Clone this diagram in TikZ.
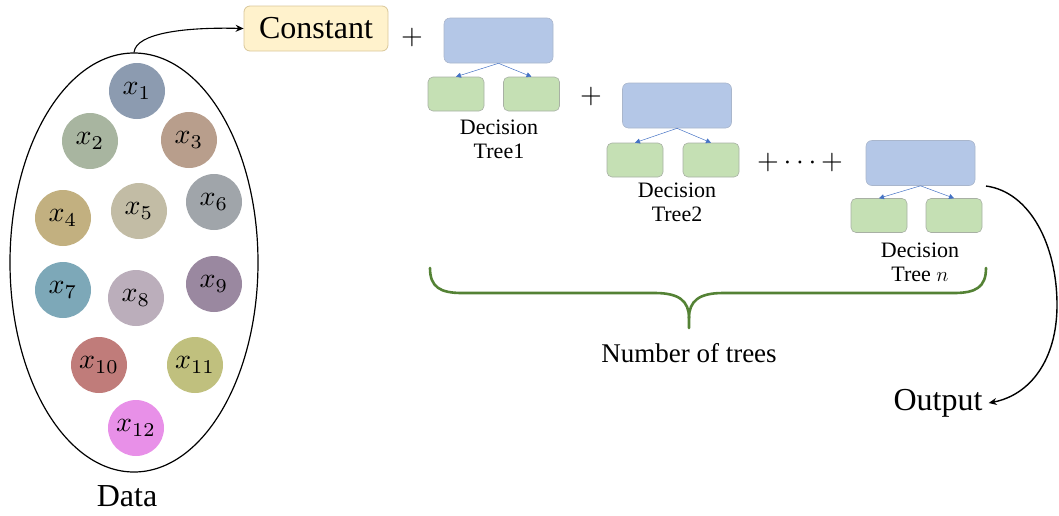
\documentclass[tikz,border=0pt]{standalone}
\usepackage{graphicx}
\usepackage{fontspec}
\setmainfont{Liberation Serif}
\usetikzlibrary{arrows.meta,shapes.geometric}

\definecolor{rootfill}{HTML}{B4C7E7}
\definecolor{rootedge}{HTML}{A9B6CC}
\definecolor{leaffill}{HTML}{C5E0B4}
\definecolor{leafedge}{HTML}{A8B0A4}
\definecolor{constfill}{HTML}{FFF2CC}
\definecolor{constedge}{HTML}{D9C79A}
\definecolor{braceg}{HTML}{548235}
\definecolor{treearrowc}{HTML}{4472C4}
\definecolor{cA}{HTML}{8C9BB0}
\definecolor{cB}{HTML}{A8B5A0}
\definecolor{cC}{HTML}{B89E8C}
\definecolor{cD}{HTML}{C2B080}
\definecolor{cE}{HTML}{C2BCA5}
\definecolor{cF}{HTML}{A0A5AA}
\definecolor{cG}{HTML}{7DA8B8}
\definecolor{cH}{HTML}{BBAEBB}
\definecolor{cI}{HTML}{9A88A0}
\definecolor{cJ}{HTML}{C07C7A}
\definecolor{cK}{HTML}{C0C07E}
\definecolor{cL}{HTML}{E890E8}

% large maths, scaled up from the normal size
\newcommand{\bigmath}[1]{\scalebox{2.8}{$#1$}}

\tikzset{
  feat/.style={circle, minimum size=56pt, inner sep=0pt, fill=#1},
  rootbox/.style={rectangle, rounded corners=6pt, fill=rootfill, draw=rootedge,
    line width=0.6pt, minimum width=109pt, minimum height=45pt, inner sep=0pt},
  leafbox/.style={rectangle, rounded corners=5pt, fill=leaffill, draw=leafedge,
    line width=0.6pt, minimum width=56pt, minimum height=34pt, inner sep=0pt},
  treearrow/.style={draw=treearrowc, line width=0.5pt,
    -{Triangle[width=5pt,length=5pt]}},
  treelabel/.style={align=center, font=\fontsize{22}{24}\selectfont, inner sep=0pt},
  bigtext/.style={font=\fontsize{32}{36}\selectfont, inner sep=0pt},
  plus/.style={inner sep=0pt},
  flow/.style={line width=1.4pt, -{Stealth[length=8pt,width=7pt]}},
}

\begin{document}
\begin{tikzpicture}[x=1pt,y=-1pt]
\useasboundingbox (0,0) rectangle (1059,515);

% data set
\node[draw, line width=1.2pt, ellipse, minimum width=248pt, minimum height=419pt,
      inner sep=0pt] (data) at (134,262.5) {};
\node[bigtext] (datalabel) at (127,496) {Data};

\node[feat=cA] (f1)  at (137,91)  {\bigmath{x_{1}}};
\node[feat=cB] (f2)  at (90,141)  {\bigmath{x_{2}}};
\node[feat=cC] (f3)  at (189,140) {\bigmath{x_{3}}};
\node[feat=cD] (f4)  at (63,218)  {\bigmath{x_{4}}};
\node[feat=cE] (f5)  at (139,211) {\bigmath{x_{5}}};
\node[feat=cF] (f6)  at (214,202) {\bigmath{x_{6}}};
\node[feat=cG] (f7)  at (63,290)  {\bigmath{x_{7}}};
\node[feat=cH] (f8)  at (136,298) {\bigmath{x_{8}}};
\node[feat=cI] (f9)  at (214,284) {\bigmath{x_{9}}};
\node[feat=cJ] (f10) at (99,365)  {\bigmath{x_{10}}};
\node[feat=cK] (f11) at (195,365) {\bigmath{x_{11}}};
\node[feat=cL] (f12) at (136,428) {\bigmath{x_{12}}};

% constant term
\node[rectangle, rounded corners=6pt, fill=constfill, draw=constedge, line width=0.8pt,
      minimum width=144pt, minimum height=45pt, inner sep=0pt, bigtext]
      (const) at (316,28.5) {Constant};
\draw[flow, line width=1.1pt] (data.north) .. controls (136,33) and (185,27) .. (const.west);

\node[plus] (p0) at (412,37) {\bigmath{+}};

% tree 1
\node[rootbox] (r1) at (498.5,40.5) {};
\node[leafbox] (a1) at (456,94) {};
\node[leafbox] (b1) at (531.5,94) {};
\draw[treearrow] (r1.south) -- (a1.north);
\draw[treearrow] (r1.south) -- (b1.north);
\node[treelabel] (t1) at (499,139) {Decision\\Tree1};

\node[plus] (p1) at (591,96) {\bigmath{+}};

% tree 2
\node[rootbox] (r2) at (677,105.5) {};
\node[leafbox] (a2) at (635,160) {};
\node[leafbox] (b2) at (711,160) {};
\draw[treearrow] (r2.south) -- (a2.north);
\draw[treearrow] (r2.south) -- (b2.north);
\node[treelabel] (t2) at (677,202) {Decision\\Tree2};

\node[plus] (pdots) at (800,162) {\bigmath{+\cdots+}};

% tree n
\node[rootbox] (rn) at (920.5,163) {};
\node[leafbox] (an) at (879,215.5) {};
\node[leafbox] (bn) at (954,215.5) {};
\draw[treearrow] (rn.south) -- (an.north);
\draw[treearrow] (rn.south) -- (bn.north);
\node[treelabel] (tn) at (920,262) {Decision\\Tree $n$};

% brace over all trees
\draw[braceg, line width=2.6pt, line cap=round]
  (430,268) .. controls (430,287) and (440,293) .. (462,293)
  -- (655,293) .. controls (679,293) and (689,301) .. (689,318) -- (689,328);
\draw[braceg, line width=2.6pt, line cap=round]
  (986,268) .. controls (986,287) and (976,293) .. (954,293)
  -- (723,293) .. controls (699,293) and (689,301) .. (689,318);
\node[font=\fontsize{27}{30}\selectfont, inner sep=0pt] (ntrees) at (689,353) {Number of trees};

% result
\node[bigtext] (out) at (938,403) {Output};
\coordinate (outstart) at (986,186);
\draw[flow] (outstart) .. controls (1030,192) and (1057,245) .. (1057,305)
  .. controls (1057,360) and (1030,395) .. ([xshift=6pt]out.east);
\end{tikzpicture}
\end{document}
